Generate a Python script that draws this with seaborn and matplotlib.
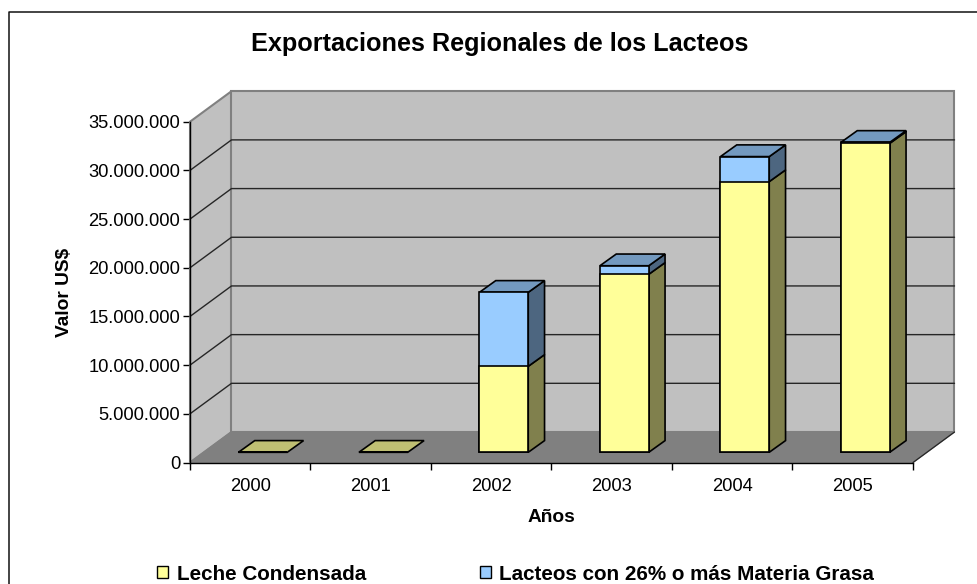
import numpy as np
import matplotlib
matplotlib.use("Agg")
import matplotlib.pyplot as plt
import seaborn as sns
from matplotlib.lines import Line2D
from matplotlib.patches import Polygon, Patch

years = ["2000", "2001", "2002", "2003", "2004", "2005"]
leche = [0, 0, 8830000, 18280000, 27800000, 31730000]
grasa = [0, 0, 7600000, 880000, 2570000, 100000]
y_ticks = [0, 5000000, 10000000, 15000000, 20000000, 25000000, 30000000, 35000000]
y_labels = ["0", "5.000.000", "10.000.000", "15.000.000", "20.000.000",
            "25.000.000", "30.000.000", "35.000.000"]

W, H = 978, 584
DPI = 100

# Plot box of the front plane, in pixels
LEFT, RIGHT, TOP, BOTTOM = 190, 913, 121.7, 462.5
PX_X = (RIGHT - LEFT) / 6
PX_Y = (BOTTOM - TOP) / 35000000

# 3d offsets turned into data units
WALL_DX, WALL_DY = 41.5 / PX_X, 30.5 / PX_Y
BAR_DX, BAR_DY = 12.6 / PX_X, 10.2 / PX_Y
DEPTH_DX, DEPTH_DY = 16.3 / PX_X, 11.7 / PX_Y
BAR_W = 48.8 / PX_X

YELLOW, BLUE = "#FFFF99", "#99CCFF"
YELLOW_TOP, BLUE_TOP = "#BFBF73", "#7399BF"
YELLOW_SIDE, BLUE_SIDE = "#80804D", "#4D6680"
WALL, FLOOR, EDGE = "#C0C0C0", "#808080", "#808080"

sns.set_style("white")
plt.rcParams["font.family"] = ["Liberation Sans", "DejaVu Sans"]
plt.rcParams["text.color"] = "black"
plt.rcParams["axes.labelcolor"] = "black"

fig = plt.figure(figsize=(W / DPI, H / DPI), dpi=DPI, facecolor="white")
ax = fig.add_axes([LEFT / W, 1 - BOTTOM / H, (RIGHT - LEFT) / W, (BOTTOM - TOP) / H])
ax.patch.set_alpha(0)

# Chart frame, only left and top show in the picture
fig.add_artist(Line2D([8.5 / W, 8.5 / W, 1], [0, 1 - 11.5 / H, 1 - 11.5 / H], color="#111111", linewidth=1.1))

totals = np.array(leche) + np.array(grasa)
sns.barplot(x=years, y=totals, color=BLUE, saturation=1, width=BAR_W, edgecolor="black",
            linewidth=1.2, ax=ax, zorder=5)
sns.barplot(x=years, y=leche, color=YELLOW, saturation=1, width=BAR_W, edgecolor="black",
            linewidth=1.2, ax=ax, zorder=5)
for bar in ax.patches:
    bar.set_x(bar.get_x() + BAR_DX)
    bar.set_y(bar.get_y() + BAR_DY)
    bar.set_clip_on(False)

ax.set_xlim(-0.5, 5.5)
ax.set_ylim(0, 35000000)


def face(points, color, zorder=4, edge="black", lw=1.2):
    ax.add_patch(Polygon(points, closed=True, facecolor=color, edgecolor=edge, linewidth=lw,
                         clip_on=False, zorder=zorder, joinstyle="miter"))


# Walls and floor
x0, x1 = -0.5, 5.5
ymax = 35000000
face([(x0, 0), (x0 + WALL_DX, WALL_DY), (x0 + WALL_DX, ymax + WALL_DY), (x0, ymax)], WALL, 1, EDGE, 1.5)
face([(x0 + WALL_DX, WALL_DY), (x1 + WALL_DX, WALL_DY), (x1 + WALL_DX, ymax + WALL_DY),
      (x0 + WALL_DX, ymax + WALL_DY)], WALL, 1, EDGE, 1.5)
face([(x0, 0), (x1, 0), (x1 + WALL_DX, WALL_DY), (x0 + WALL_DX, WALL_DY)], FLOOR, 1.5, EDGE, 1)
ax.plot([x1, x1 + WALL_DX], [0, WALL_DY], color="#262626", linewidth=0.9, clip_on=False, zorder=2)

# Gridlines
for v in y_ticks[1:-1]:
    ax.plot([x0, x0 + WALL_DX, x1 + WALL_DX], [v, v + WALL_DY, v + WALL_DY], color="#262626",
            linewidth=1, clip_on=False, zorder=2)

# Sides and tops of the bars
for i in range(len(years)):
    xl = i - BAR_W / 2 + BAR_DX
    xr = i + BAR_W / 2 + BAR_DX
    base = BAR_DY
    mid = base + leche[i]
    top = mid + grasa[i]
    if leche[i] > 0:
        face([(xr, base), (xr + DEPTH_DX, base + DEPTH_DY), (xr + DEPTH_DX, mid + DEPTH_DY), (xr, mid)],
             YELLOW_SIDE)
    if grasa[i] > 0:
        face([(xr, mid), (xr + DEPTH_DX, mid + DEPTH_DY), (xr + DEPTH_DX, top + DEPTH_DY), (xr, top)],
             BLUE_SIDE)
    face([(xl, top), (xr, top), (xr + DEPTH_DX, top + DEPTH_DY), (xl + DEPTH_DX, top + DEPTH_DY)],
         BLUE_TOP if grasa[i] > 0 else YELLOW_TOP)

# Axes
for side in ["top", "right"]:
    ax.spines[side].set_visible(False)
for side in ["left", "bottom"]:
    ax.spines[side].set_color("black")
    ax.spines[side].set_linewidth(1)
    ax.spines[side].set_zorder(3)

ax.set_yticks(y_ticks)
ax.set_yticklabels(y_labels)
ax.set_xticks(np.arange(-0.5, 6, 1), minor=True)
ax.tick_params(axis="x", which="major", length=0, labelsize=13.2, pad=11, colors="black")
ax.tick_params(axis="x", which="minor", length=5, width=1, color="black", bottom=True)
ax.tick_params(axis="y", length=5, width=1, left=True, labelsize=13.2, pad=2, colors="black")

ax.set_xlabel("Años", fontsize=13.8, fontweight="bold", labelpad=10)
ax.set_ylabel("Valor US$", fontsize=13.8, fontweight="bold", labelpad=11)
fig.text(500 / W, 1 - 44 / H, "Exportaciones Regionales de los Lacteos", fontsize=18.2, fontweight="bold",
         ha="center", va="center")

# Legend
handles = [Patch(facecolor=YELLOW, edgecolor="black", linewidth=1, label="Leche Condensada"),
           Patch(facecolor=BLUE, edgecolor="black", linewidth=1, label="Lacteos con 26% o más Materia Grasa")]
fig.legend(handles=handles, ncol=2, frameon=False, loc="center left", bbox_to_anchor=(157 / W, 1 - 574 / H),
           prop={"size": 14.9, "weight": "bold"}, handlelength=0.55, handleheight=0.55, handletextpad=0.4,
           columnspacing=5.5, borderpad=0, borderaxespad=0)

fig.savefig("out.png", dpi=DPI)
plt.close(fig)
